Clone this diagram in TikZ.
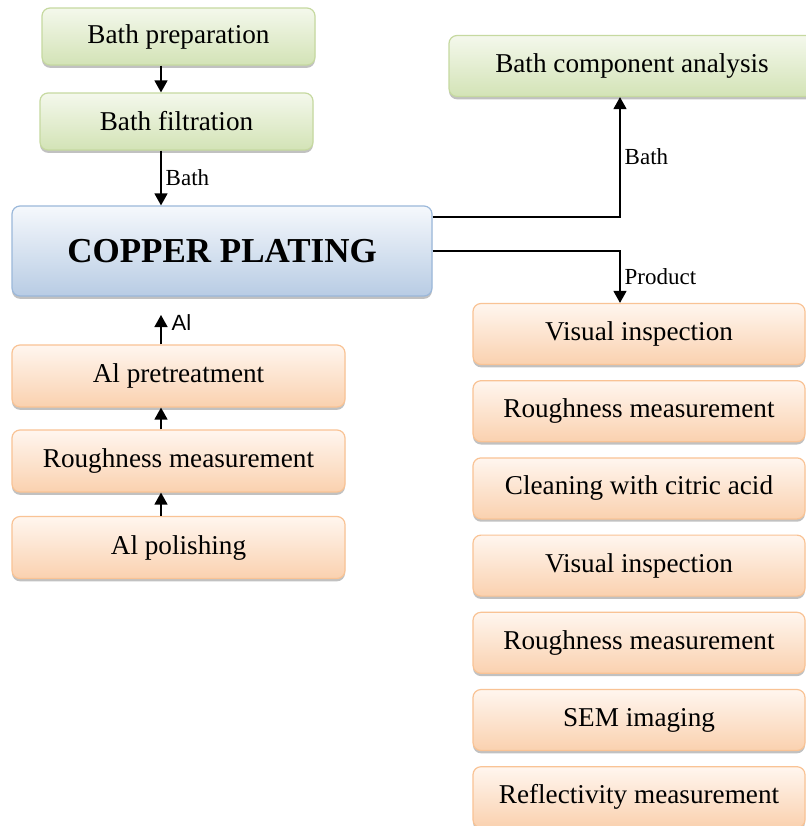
\documentclass[tikz,border=0pt]{standalone}
\usepackage{fontspec}
\setmainfont{Liberation Serif}
\newfontfamily\alfont{Liberation Sans}
\usetikzlibrary{arrows.meta,shadows}

\definecolor{greenline}{HTML}{C6D9A0}
\definecolor{greentop}{HTML}{F4F8EC}
\definecolor{greenbot}{HTML}{D3E3B6}
\definecolor{orangeline}{HTML}{F9C395}
\definecolor{orangetop}{HTML}{FFF6EF}
\definecolor{orangebot}{HTML}{FAD1AF}
\definecolor{blueline}{HTML}{9BB8DA}
\definecolor{bluetop}{HTML}{F5F8FC}
\definecolor{bluebot}{HTML}{B8CCE4}

\tikzset{
    box/.style={rounded corners=4pt, line width=0.6pt, inner sep=0pt, align=center,
        font=\fontsize{13.6}{16}\selectfont,
        drop shadow={shadow xshift=0pt, shadow yshift=-1.4pt, opacity=0.4, fill=black!60}},
    greenbox/.style={box, draw=greenline, top color=greentop, bottom color=greenbot,
        minimum width=136.5pt, minimum height=28.5pt},
    orangebox/.style={box, draw=orangeline, top color=orangetop, bottom color=orangebot,
        minimum width=166.5pt, minimum height=31pt},
    bluebox/.style={box, draw=blueline, top color=bluetop, bottom color=bluebot,
        minimum width=210pt, minimum height=45pt, font=\fontsize{17.5}{20}\selectfont\bfseries},
    arr/.style={-{Triangle[length=6pt,width=6.5pt]}, line width=0.7pt},
    lbl/.style={font=\fontsize{11.5}{13}\selectfont, inner sep=2pt}
}

\begin{document}
\begin{tikzpicture}[x=0.5pt, y=-0.5pt]
    \useasboundingbox[fill=white] (0,0) rectangle (806,826);

    % Bath side (green)
    \node[greenbox] (prep) at (178.5,36.5) {Bath preparation};
    \node[greenbox] (filt) at (176.5,121.5) {Bath filtration};
    \node[greenbox, minimum width=183pt, minimum height=30.5pt] (analysis) at (632,66) {Bath component analysis};

    % Main process
    \node[bluebox] (copper) at (222,251) {COPPER PLATING};

    % Aluminium side (left)
    \node[orangebox] (pre) at (178.5,376) {Al pretreatment};
    \node[orangebox] (rough) at (178.5,461) {Roughness measurement};
    \node[orangebox] (pol) at (178.5,547.5) {Al polishing};

    % Product side (right)
    \foreach \t [count=\i] in {Visual inspection, Roughness measurement,
        Cleaning with citric acid, Visual inspection, Roughness measurement,
        SEM imaging, Reflectivity measurement}
        \node[orangebox, minimum width=166pt, minimum height=30.5pt] (r\i) at (639,{334+77.2*(\i-1)}) {\t};

    % x positions of the arrows
    \coordinate (ax) at (161,0);
    \coordinate (bx) at (620,0);
    \coordinate (alend) at (161,315);

    % arrows
    \draw[arr] (prep.south -| ax) -- (filt.north -| ax);
    \draw[arr] (filt.south -| ax) -- node[lbl, right] {Bath} (copper.north -| ax);
    \draw[arr] (pol.north -| ax) -- (rough.south -| ax);
    \draw[arr] (rough.north -| ax) -- (pre.south -| ax);
    \draw[arr] (pre.north -| ax) -- node[right, inner sep=5pt, font=\alfont\fontsize{11}{13}\selectfont, pos=0.75] {Al} (alend);
    \draw[arr] ([yshift=17pt]copper.east) -| node[lbl, right, pos=0.75] {Bath} (analysis.south -| bx);
    \draw[arr] (copper.east) -| node[lbl, right, pos=0.75] {Product} (r1.north -| bx);
\end{tikzpicture}
\end{document}
